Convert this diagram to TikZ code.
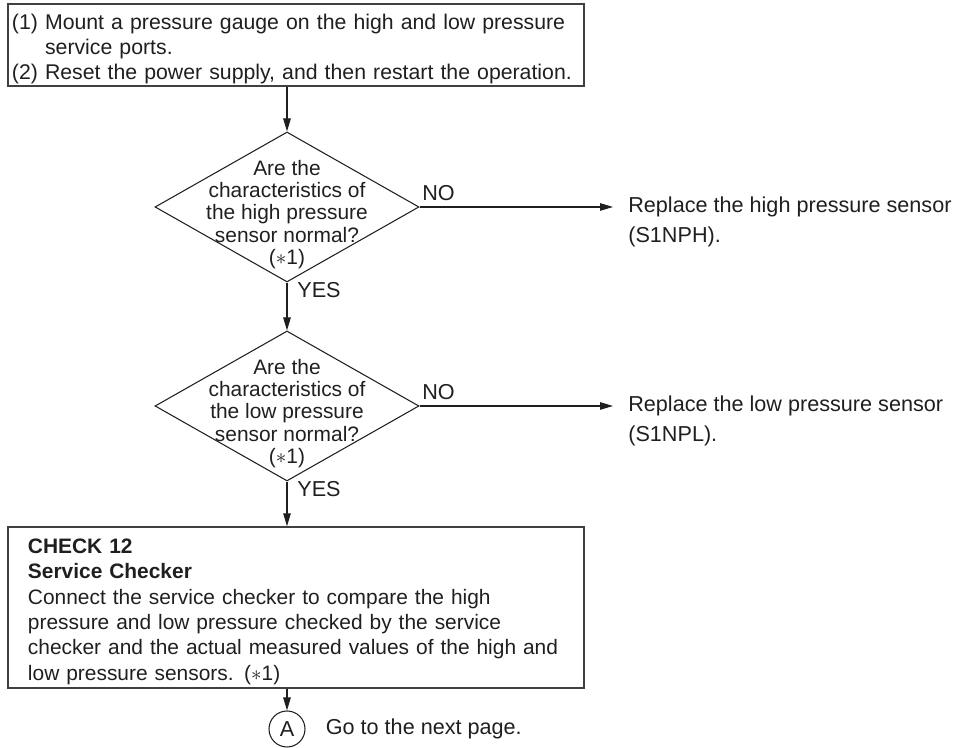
\documentclass[tikz,border=0pt]{standalone}
\usepackage{fontspec}
\setmainfont{Liberation Sans}
\usetikzlibrary{arrows.meta,positioning,shapes.geometric}
\colorlet{ink}{black!88}

\begin{document}
\begin{tikzpicture}[
  arr/.style={-{Triangle[length=0.26cm,width=0.15cm]}, line width=0.6pt, draw=ink},
  stepbox/.style={draw=ink!85, line width=0.8pt, minimum width=11.52cm, align=left,
    inner ysep=0pt, text=ink, font=\fontsize{12.1}{14.2}\selectfont},
  decision/.style={draw=ink, diamond, line width=0.6pt, minimum width=5.28cm,
    minimum height=3cm, inner sep=0pt},
  qtext/.style={align=center, inner sep=0pt, text=ink, font=\fontsize{11.9}{12.6}\selectfont},
  lbl/.style={inner sep=0pt, text=ink, font=\fontsize{12.3}{14.2}\selectfont},
  rtext/.style={anchor=west, align=left, inner xsep=0.3cm, inner ysep=0pt, text=ink,
    font=\fontsize{12.3}{17.1}\selectfont}
]
\useasboundingbox (0,0) rectangle (19.1,14.96);

% first step
\node[stepbox, minimum height=1.64cm, text width=11.36cm, inner xsep=0.08cm] (prep) at (5.92,14.06)
  {\rule{0pt}{13.3pt}(1) Mount a pressure gauge on the high and low pressure\\
   \phantom{(1) }service ports.\\
   (2) Reset the power supply, and then restart the operation.};

% the two sensor checks
\foreach \nm/\yy/\kind/\part in {hp/10.82/high/S1NPH, lp/6.84/low/S1NPL} {
  \node[decision] (\nm) at (5.74,\yy) {};
  \node[qtext] (\nm q) at ([yshift=-0.15cm]\nm.center)
    {Are the\\characteristics of\\the \kind\ pressure\\sensor normal?\\($\ast$1)};
  \node[lbl, anchor=south west] (\nm no) at ([xshift=0.05cm,yshift=0.12cm]\nm.east) {NO};
  \node[lbl, anchor=north west] (\nm yes) at ([xshift=0.2cm]\nm.south) {YES};
  \node[rtext] (\nm rep) at (12.26,\yy-0.29) {Replace the \kind\ pressure sensor\\(\part).};
  \draw[arr] (\nm.east) -- (\nm.east -| \nm rep.west);
}

% service checker
\node[stepbox, minimum height=3.22cm, text width=10.72cm, inner xsep=0.4cm,
  font=\fontsize{11.9}{14.4}\selectfont] (chk) at (5.92,2.81)
  {\rule{0pt}{13pt}\textbf{CHECK 12}\\
   \textbf{Service Checker}\\
   Connect the service checker to compare the high\\
   pressure and low pressure checked by the service\\
   checker and the actual measured values of the high and\\
   low pressure sensors. ($\ast$1)};

\node[circle, draw=ink, line width=0.6pt, minimum size=0.72cm, inner sep=0pt, text=ink,
  font=\fontsize{12.3}{14.2}\selectfont] (goA) at (5.74,0.38) {A};
\node[lbl, right=0.4cm of goA] (next) {Go to the next page.};

\draw[arr] (prep.south -| hp.north) -- (hp.north);
\draw[arr] (hp.south) -- (lp.north);
\draw[arr] (lp.south) -- (lp.south |- chk.north);
\draw[arr] (chk.south -| goA.north) -- (goA.north);
\end{tikzpicture}
\end{document}
